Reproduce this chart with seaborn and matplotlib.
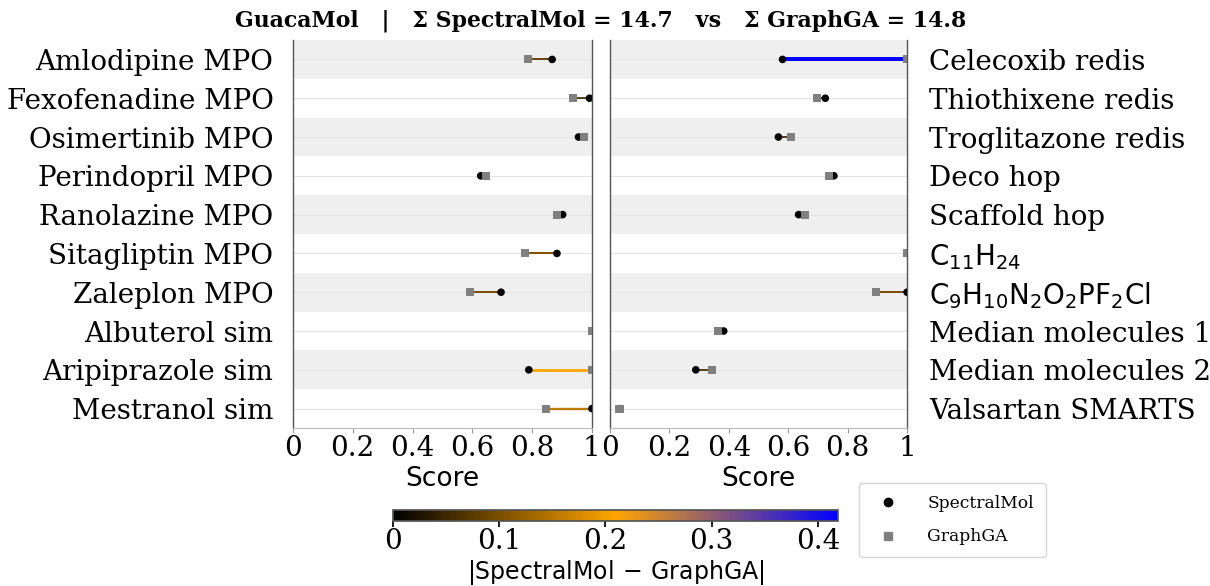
import numpy as np
import pandas as pd
import matplotlib
matplotlib.use("Agg")
import matplotlib.pyplot as plt
from matplotlib.colors import LinearSegmentedColormap, Normalize
from matplotlib.lines import Line2D
import seaborn as sns

sns.set_theme(style="white")
plt.rcParams["font.family"] = ["DejaVu Serif"]
plt.rcParams["mathtext.fontset"] = "dejavusans"
for k in ["text.color", "axes.labelcolor", "xtick.color", "ytick.color"]:
    plt.rcParams[k] = "black"

left_tasks = ["Amlodipine MPO", "Fexofenadine MPO", "Osimertinib MPO", "Perindopril MPO",
              "Ranolazine MPO", "Sitagliptin MPO", "Zaleplon MPO", "Albuterol sim",
              "Aripiprazole sim", "Mestranol sim"]
left_spectral = [0.867, 0.992, 0.955, 0.628, 0.902, 0.883, 0.696, 1.0, 0.789, 1.0]
left_graphga = [0.787, 0.938, 0.972, 0.647, 0.884, 0.776, 0.593, 1.0, 1.0, 0.845]

right_tasks = ["Celecoxib redis", "Thiothixene redis", "Troglitazone redis", "Deco hop",
               "Scaffold hop", r"$\mathrm{C_{11}H_{24}}$",
               r"$\mathrm{C_9H_{10}N_2O_2PF_2Cl}$", "Median molecules 1",
               "Median molecules 2", "Valsartan SMARTS"]
right_spectral = [0.581, 0.725, 0.567, 0.754, 0.635, 1.0, 1.0, 0.383, 0.289, 0.032]
right_graphga = [1.0, 0.698, 0.608, 0.736, 0.657, 1.0, 0.897, 0.365, 0.345, 0.032]

x_ticks = [0, 0.2, 0.4, 0.6, 0.8, 1]
x_ticklabels = ["0", "0.2", "0.4", "0.6", "0.8", "1"]
cbar_ticks = [0, 0.1, 0.2, 0.3, 0.4]
cbar_ticklabels = ["0", "0.1", "0.2", "0.3", "0.4"]

cmap = LinearSegmentedColormap.from_list("diff", ["black", "orange", "blue"])
all_diff = np.abs(np.array(left_spectral + right_spectral) - np.array(left_graphga + right_graphga))
norm = Normalize(vmin=0, vmax=all_diff.max())

fig = plt.figure(figsize=(12.1, 5.86), dpi=100)
ax_l = fig.add_axes([0.2421, 0.2696, 0.2471, 0.6621])
ax_r = fig.add_axes([0.5041, 0.2696, 0.2455, 0.6621])


def draw_panel(ax, tasks, spec, gga, side):
    df = pd.DataFrame({"task": tasks, "pos": np.arange(len(tasks)),
                       "SpectralMol": spec, "GraphGA": gga})
    df["diff"] = (df["SpectralMol"] - df["GraphGA"]).abs()
    for i in range(len(df)):
        if i % 2 == 0:
            ax.axhspan(i - 0.5, i + 0.5, color="#efefef", zorder=0, lw=0)
        ax.axhline(i, color="#e4e4e4", lw=0.8, zorder=0.5)
    for _, r in df.iterrows():
        ax.plot([r["SpectralMol"], r["GraphGA"]], [r["pos"], r["pos"]],
                color=cmap(norm(r["diff"])), lw=1.0 + 4.5 * r["diff"],
                solid_capstyle="butt", zorder=2)
    sns.scatterplot(data=df, x="SpectralMol", y="pos", ax=ax, color="black",
                    marker="o", s=30, edgecolor="none", zorder=3)
    sns.scatterplot(data=df, x="GraphGA", y="pos", ax=ax, color="#808080",
                    marker="s", s=34, edgecolor="none", zorder=4)
    ax.set_xlim(0, 1)
    ax.set_ylim(len(df) - 0.5, -0.5)
    ax.set_yticks(df["pos"])
    ax.set_yticklabels(df["task"], fontsize=20)
    ax.set_xticks(x_ticks)
    ax.set_xticklabels(x_ticklabels, fontsize=20)
    ax.set_xlabel("Score", fontsize=19, family="DejaVu Sans", labelpad=3)
    ax.set_ylabel("")
    ax.tick_params(axis="y", length=0, pad=14)
    ax.tick_params(axis="x", length=3.5, width=0.8, color="#999999", pad=1.5, bottom=True)
    if side == "right":
        ax.yaxis.tick_right()
        ax.tick_params(axis="y", length=0, pad=16)
    ax.spines["top"].set_visible(False)
    ax.spines["bottom"].set_visible(True)
    ax.spines["bottom"].set_color("#bbbbbb")
    ax.spines["bottom"].set_linewidth(0.8)
    for s in ["left", "right"]:
        ax.spines[s].set_visible(True)
        ax.spines[s].set_color("#555555")
        ax.spines[s].set_linewidth(1.0)


draw_panel(ax_l, left_tasks, left_spectral, left_graphga, "left")
draw_panel(ax_r, right_tasks, right_spectral, right_graphga, "right")

tot_s = sum(left_spectral) + sum(right_spectral)
tot_g = sum(left_graphga) + sum(right_graphga)
fig.text(0.496, 0.965,
         f"GuacaMol   |   \u03a3 SpectralMol = {tot_s:.1f}   vs   \u03a3 GraphGA = {tot_g:.1f}",
         ha="center", va="center", fontsize=15.8, fontweight="bold",
         family="DejaVu Serif")

cax = fig.add_axes([0.3248, 0.1109, 0.3678, 0.0188])
sm = plt.cm.ScalarMappable(cmap=cmap, norm=norm)
cb = fig.colorbar(sm, cax=cax, orientation="horizontal")
cb.set_ticks(cbar_ticks)
cb.set_ticklabels(cbar_ticklabels, fontsize=20)
cb.outline.set_edgecolor("#555555")
cb.ax.tick_params(length=4, pad=1)
cb.set_label(r"$|\mathrm{SpectralMol}\,-\,\mathrm{GraphGA}|$", fontsize=17, labelpad=2)

handles = [Line2D([], [], ls="none", marker="o", color="black", markersize=6),
           Line2D([], [], ls="none", marker="s", color="#808080", markersize=6)]
fig.legend(handles, ["SpectralMol", "GraphGA"], loc="center",
           bbox_to_anchor=(0.787, 0.112), fontsize=12.3, frameon=True,
           edgecolor="#cccccc", handletextpad=1.3, borderpad=0.7, labelspacing=0.95)

fig.savefig("out.png", dpi=100)
